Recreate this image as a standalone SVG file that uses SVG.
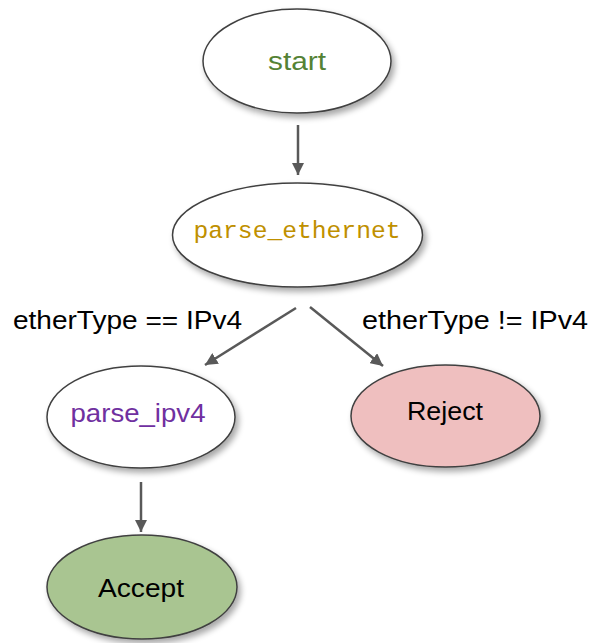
<svg xmlns="http://www.w3.org/2000/svg" width="590" height="643" viewBox="0 0 590 643">
  <defs>
    <filter id="shadow" x="-20%" y="-20%" width="150%" height="160%">
      <feGaussianBlur in="SourceAlpha" stdDeviation="3"/>
      <feOffset dx="3" dy="4" result="b"/>
      <feComponentTransfer><feFuncA type="linear" slope="0.35"/></feComponentTransfer>
      <feMerge><feMergeNode/><feMergeNode in="SourceGraphic"/></feMerge>
    </filter>
    <marker id="arrow" viewBox="0 0 10 10" refX="10" refY="5" markerWidth="5" markerHeight="5" markerUnits="strokeWidth" orient="auto">
      <path d="M0,0 L10,5 L0,10 z" fill="#595959"/>
    </marker>
  </defs>
  <style>
    .node { stroke: #404040; stroke-width: 1.5; filter: url(#shadow); }
    .label { font-family: "Liberation Sans", Arial, sans-serif; font-size: 25px; text-anchor: middle; }
    .mono { font-family: "Liberation Mono", "DejaVu Sans Mono", monospace; font-size: 24.5px; text-anchor: middle; }
    .edge { stroke: #595959; stroke-width: 2.5; fill: none; marker-end: url(#arrow); }
    .elabel { font-family: "Liberation Sans", Arial, sans-serif; font-size: 26px; fill: #000; }
  </style>

  <g id="start">
    <ellipse class="node" cx="297" cy="61" rx="94" ry="52" fill="#ffffff"/>
    <text class="label" x="297" y="70" fill="#548235" textLength="58" lengthAdjust="spacingAndGlyphs">start</text>
  </g>

  <g id="parse_ethernet">
    <ellipse class="node" cx="297.5" cy="235" rx="125" ry="52" fill="#ffffff"/>
    <text class="mono" x="297" y="238" fill="#BF9000" textLength="207" lengthAdjust="spacingAndGlyphs">parse_ethernet</text>
  </g>

  <g id="parse_ipv4">
    <ellipse class="node" cx="141" cy="417" rx="94" ry="51" fill="#ffffff"/>
    <text class="label" x="138" y="422" fill="#7030A0" textLength="135" lengthAdjust="spacingAndGlyphs">parse_ipv4</text>
  </g>

  <g id="reject">
    <ellipse class="node" cx="445.5" cy="416" rx="94.5" ry="51" fill="#EFBFBF"/>
    <text class="label" x="445" y="420" fill="#000000" textLength="76" lengthAdjust="spacingAndGlyphs">Reject</text>
  </g>

  <g id="accept">
    <ellipse class="node" cx="142" cy="587" rx="95" ry="52" fill="#A9C591"/>
    <text class="label" x="141" y="597" fill="#000000" textLength="86" lengthAdjust="spacingAndGlyphs">Accept</text>
  </g>

  <g id="connectors">
    <line class="edge" x1="298" y1="125" x2="298" y2="175"/>
    <line class="edge" x1="296" y1="308" x2="205" y2="365"/>
    <line class="edge" x1="310" y1="307" x2="383" y2="366"/>
    <line class="edge" x1="141" y1="482" x2="141" y2="532"/>
    <text class="elabel" x="13" y="329" textLength="229" lengthAdjust="spacingAndGlyphs">etherType == IPv4</text>
    <text class="elabel" x="362" y="329" textLength="226" lengthAdjust="spacingAndGlyphs">etherType != IPv4</text>
  </g>
</svg>
